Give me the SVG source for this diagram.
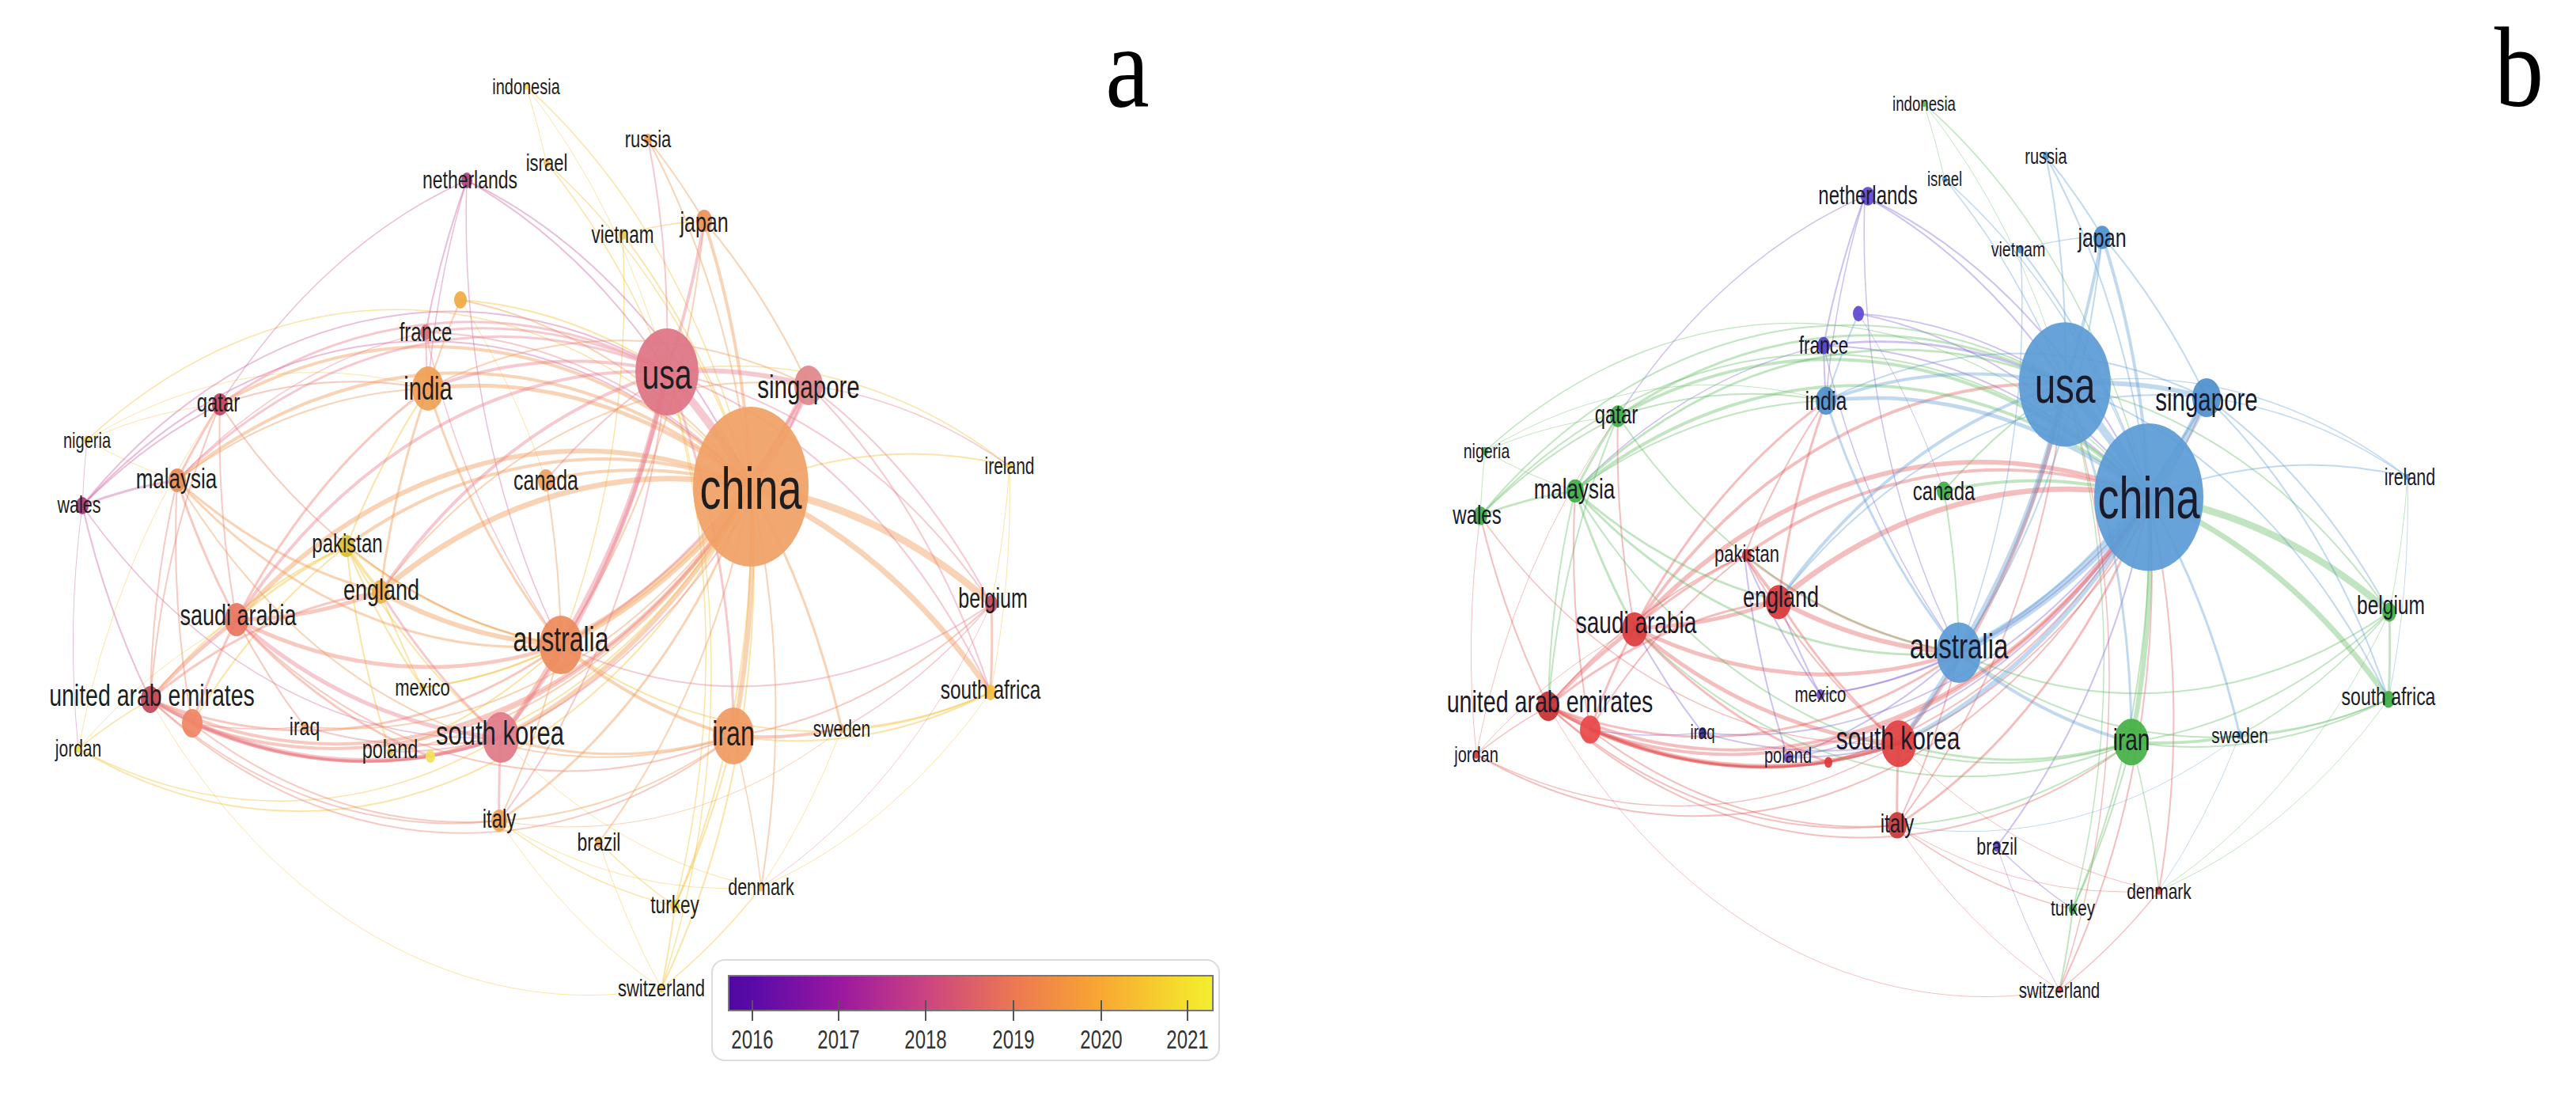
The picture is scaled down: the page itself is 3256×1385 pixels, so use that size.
<svg xmlns="http://www.w3.org/2000/svg" width="3256" height="1385" viewBox="0 0 3256 1385">
<style>
.l{font-family:"Liberation Sans",Arial,sans-serif;fill:#1e1e1e;text-anchor:middle;dominant-baseline:central}
.lb{font-family:"Liberation Sans",Arial,sans-serif;fill:#1a1a2a;text-anchor:middle;dominant-baseline:central}
.pl{font-family:"Liberation Serif","Times New Roman",serif;fill:#000;text-anchor:middle}
.edges{fill:none}
.ap{stroke:#ea7d8c;stroke-opacity:.42}
.ao{stroke:#f29d5e;stroke-opacity:.45}
.ar{stroke:#ee7f6a;stroke-opacity:.42}
.ay{stroke:#f5c94f;stroke-opacity:.5}
.am{stroke:#c8559a;stroke-opacity:.38}
.bb{stroke:#5b9bd5;stroke-opacity:.38}
.bg{stroke:#5cb85c;stroke-opacity:.38}
.br{stroke:#e24a4a;stroke-opacity:.36}
.bp{stroke:#7b5bd6;stroke-opacity:.38}
.n{fill-opacity:.93}
.yr{font-family:"Liberation Sans",Arial,sans-serif;fill:#333;text-anchor:middle;dominant-baseline:central}
</style>
<defs>
<linearGradient id="plasma" x1="0" x2="1" y1="0" y2="0">
<stop offset="0" stop-color="#50089f"/>
<stop offset=".05" stop-color="#5a0aa8"/>
<stop offset=".23" stop-color="#9a18a0"/>
<stop offset=".41" stop-color="#cc4480"/>
<stop offset=".59" stop-color="#ec7852"/>
<stop offset=".77" stop-color="#f8a832"/>
<stop offset=".95" stop-color="#f4e22c"/>
<stop offset="1" stop-color="#f2ee30"/>
</linearGradient>
<path id="e1" d="M843 470A700 966 0 0 1 949 615" stroke-width="10"/>
<path id="e2" d="M1022 487A700 966 0 0 1 949 615" stroke-width="10"/>
<path id="e3" d="M843 470A700 966 0 0 1 1022 487" stroke-width="6"/>
<path id="e4" d="M949 615A700 966 0 0 1 709 815" stroke-width="10"/>
<path id="e5" d="M843 470A700 966 0 0 1 709 815" stroke-width="7"/>
<path id="e6" d="M949 615A700 966 0 0 1 927 930" stroke-width="6"/>
<path id="e7" d="M949 615A700 966 0 0 1 633 932" stroke-width="6"/>
<path id="e8" d="M481 748A700 966 0 0 1 949 615" stroke-width="7"/>
<path id="e9" d="M299 783A700 966 0 0 1 949 615" stroke-width="6"/>
<path id="e10" d="M949 615A700 966 0 0 1 1253 763" stroke-width="9"/>
<path id="e11" d="M949 615A700 966 0 0 1 1252 875" stroke-width="7"/>
<path id="e12" d="M541 491A700 966 0 0 1 949 615" stroke-width="5"/>
<path id="e13" d="M541 491A700 966 0 0 1 843 470" stroke-width="4"/>
<path id="e14" d="M690 607A700 966 0 0 1 949 615" stroke-width="4"/>
<path id="e15" d="M709 815A700 966 0 0 1 633 932" stroke-width="6"/>
<path id="e16" d="M481 748A700 966 0 0 1 299 783" stroke-width="5"/>
<path id="e17" d="M190 884A700 966 0 0 1 299 783" stroke-width="5"/>
<path id="e18" d="M633 932A700 966 0 0 1 190 884" stroke-width="5"/>
<path id="e19" d="M633 932A700 966 0 0 1 299 783" stroke-width="5"/>
<path id="e20" d="M890 279A700 966 0 0 1 949 615" stroke-width="4"/>
<path id="e21" d="M890 279A700 966 0 0 1 843 470" stroke-width="4"/>
<path id="e22" d="M438 690A700 966 0 0 1 949 615" stroke-width="4"/>
<path id="e23" d="M709 815A700 966 0 0 1 481 748" stroke-width="6"/>
<path id="e24" d="M224 607A700 966 0 0 1 949 615" stroke-width="4"/>
<path id="e25" d="M278 511A700 966 0 0 1 949 615" stroke-width="4"/>
<path id="e26" d="M843 470A700 966 0 0 1 633 932" stroke-width="5"/>
<path id="e27" d="M949 615A700 966 0 0 1 190 884" stroke-width="4"/>
<path id="e28" d="M709 815A700 966 0 0 1 299 783" stroke-width="5"/>
<path id="e29" d="M927 930A700 966 0 0 1 709 815" stroke-width="4"/>
<path id="e30" d="M1064 921A700 966 0 0 1 927 930" stroke-width="4"/>
<path id="e31" d="M631 1037A700 966 0 0 1 633 932" stroke-width="3"/>
<path id="e32" d="M633 932A700 966 0 0 1 544 956" stroke-width="3"/>
<path id="e33" d="M949 615A700 966 0 0 1 243 914" stroke-width="4"/>
<path id="e34" d="M481 748A700 966 0 0 1 843 470" stroke-width="4"/>
<path id="e35" d="M299 783A700 966 0 0 1 843 470" stroke-width="4"/>
<path id="e36" d="M843 470A700 966 0 0 1 927 930" stroke-width="3"/>
<path id="e37" d="M224 607A700 966 0 0 1 843 470" stroke-width="3"/>
<path id="e38" d="M278 511A700 966 0 0 1 843 470" stroke-width="3"/>
<path id="e39" d="M590 228A700 966 0 0 1 843 470" stroke-width="2"/>
<path id="e40" d="M538 420A700 966 0 0 1 843 470" stroke-width="3"/>
<path id="e41" d="M582 379A700 966 0 0 1 843 470" stroke-width="2"/>
<path id="e42" d="M819 176A700 966 0 0 1 949 615" stroke-width="2"/>
<path id="e43" d="M819 176A700 966 0 0 1 843 470" stroke-width="2"/>
<path id="e44" d="M787 296A700 966 0 0 1 949 615" stroke-width="2"/>
<path id="e45" d="M691 206A700 966 0 0 1 949 615" stroke-width="1.5"/>
<path id="e46" d="M665 109A700 966 0 0 1 949 615" stroke-width="1.5"/>
<path id="e47" d="M949 615A700 966 0 0 1 1276 589" stroke-width="2"/>
<path id="e48" d="M949 615A700 966 0 0 1 1064 921" stroke-width="3"/>
<path id="e49" d="M949 615A700 966 0 0 1 962 1121" stroke-width="2"/>
<path id="e50" d="M949 615A700 966 0 0 1 853 1145" stroke-width="2"/>
<path id="e51" d="M949 615A700 966 0 0 1 836 1249" stroke-width="2"/>
<path id="e52" d="M949 615A700 966 0 0 1 757 1064" stroke-width="2"/>
<path id="e53" d="M949 615A700 966 0 0 1 631 1037" stroke-width="3"/>
<path id="e54" d="M949 615A700 966 0 0 1 534 869" stroke-width="2"/>
<path id="e55" d="M949 615A700 966 0 0 1 385 918" stroke-width="2"/>
<path id="e56" d="M949 615A700 966 0 0 1 99 946" stroke-width="2"/>
<path id="e57" d="M104 639A700 966 0 0 1 949 615" stroke-width="2"/>
<path id="e58" d="M110 556A700 966 0 0 1 949 615" stroke-width="1.5"/>
<path id="e59" d="M949 615A700 966 0 0 1 493 950" stroke-width="2"/>
<path id="e60" d="M949 615A700 966 0 0 1 544 956" stroke-width="2"/>
<path id="e61" d="M538 420A700 966 0 0 1 949 615" stroke-width="2"/>
<path id="e62" d="M582 379A700 966 0 0 1 949 615" stroke-width="2"/>
<path id="e63" d="M1022 487A700 966 0 0 1 709 815" stroke-width="3"/>
<path id="e64" d="M890 279A700 966 0 0 1 1022 487" stroke-width="2"/>
<path id="e65" d="M541 491A700 966 0 0 1 1022 487" stroke-width="2"/>
<path id="e66" d="M1022 487A700 966 0 0 1 633 932" stroke-width="2"/>
<path id="e67" d="M481 748A700 966 0 0 1 1022 487" stroke-width="2"/>
<path id="e68" d="M709 815A700 966 0 0 1 438 690" stroke-width="3"/>
<path id="e69" d="M709 815A700 966 0 0 1 541 491" stroke-width="3"/>
<path id="e70" d="M709 815A700 966 0 0 1 190 884" stroke-width="3"/>
<path id="e71" d="M709 815A700 966 0 0 1 224 607" stroke-width="3"/>
<path id="e72" d="M709 815A700 966 0 0 1 278 511" stroke-width="2"/>
<path id="e73" d="M1252 875A700 966 0 0 1 709 815" stroke-width="2"/>
<path id="e74" d="M1253 763A700 966 0 0 1 709 815" stroke-width="2"/>
<path id="e75" d="M709 815A700 966 0 0 1 631 1037" stroke-width="2"/>
<path id="e76" d="M481 748A700 966 0 0 1 438 690" stroke-width="4"/>
<path id="e77" d="M481 748A700 966 0 0 1 541 491" stroke-width="3"/>
<path id="e78" d="M481 748A700 966 0 0 1 224 607" stroke-width="3"/>
<path id="e79" d="M633 932A700 966 0 0 1 481 748" stroke-width="3"/>
<path id="e80" d="M190 884A700 966 0 0 1 481 748" stroke-width="3"/>
<path id="e81" d="M299 783A700 966 0 0 1 438 690" stroke-width="3"/>
<path id="e82" d="M299 783A700 966 0 0 1 224 607" stroke-width="3"/>
<path id="e83" d="M299 783A700 966 0 0 1 278 511" stroke-width="2"/>
<path id="e84" d="M299 783A700 966 0 0 1 541 491" stroke-width="3"/>
<path id="e85" d="M243 914A700 966 0 0 1 299 783" stroke-width="3"/>
<path id="e86" d="M243 914A700 966 0 0 1 190 884" stroke-width="2"/>
<path id="e87" d="M99 946A700 966 0 0 1 190 884" stroke-width="1.5"/>
<path id="e88" d="M190 884A700 966 0 0 1 224 607" stroke-width="2"/>
<path id="e89" d="M190 884A700 966 0 0 1 278 511" stroke-width="2"/>
<path id="e90" d="M104 639A700 966 0 0 1 224 607" stroke-width="3"/>
<path id="e91" d="M104 639A700 966 0 0 1 278 511" stroke-width="2"/>
<path id="e92" d="M190 884A700 966 0 0 1 104 639" stroke-width="2"/>
<path id="e93" d="M104 639A700 966 0 0 1 843 470" stroke-width="2"/>
<path id="e94" d="M224 607A700 966 0 0 1 110 556" stroke-width="1"/>
<path id="e95" d="M224 607A700 966 0 0 1 278 511" stroke-width="3"/>
<path id="e96" d="M278 511A700 966 0 0 1 541 491" stroke-width="2"/>
<path id="e97" d="M224 607A700 966 0 0 1 541 491" stroke-width="2"/>
<path id="e98" d="M927 930A700 966 0 0 1 633 932" stroke-width="3"/>
<path id="e99" d="M633 932A700 966 0 0 1 493 950" stroke-width="2"/>
<path id="e100" d="M633 932A700 966 0 0 1 243 914" stroke-width="4"/>
<path id="e101" d="M633 932A700 966 0 0 1 385 918" stroke-width="2"/>
<path id="e102" d="M633 932A700 966 0 0 1 438 690" stroke-width="2"/>
<path id="e103" d="M927 930A700 966 0 0 1 299 783" stroke-width="2"/>
<path id="e104" d="M927 930A700 966 0 0 1 190 884" stroke-width="2"/>
<path id="e105" d="M1252 875A700 966 0 0 1 927 930" stroke-width="2"/>
<path id="e106" d="M1253 763A700 966 0 0 1 927 930" stroke-width="2"/>
<path id="e107" d="M927 930A700 966 0 0 1 853 1145" stroke-width="2"/>
<path id="e108" d="M927 930A700 966 0 0 1 962 1121" stroke-width="1.5"/>
<path id="e109" d="M927 930A700 966 0 0 1 631 1037" stroke-width="2"/>
<path id="e110" d="M927 930A700 966 0 0 1 224 607" stroke-width="2"/>
<path id="e111" d="M853 1145A700 966 0 0 1 631 1037" stroke-width="1.5"/>
<path id="e112" d="M853 1145A700 966 0 0 1 836 1249" stroke-width="2"/>
<path id="e113" d="M962 1121A700 966 0 0 1 836 1249" stroke-width="1.5"/>
<path id="e114" d="M853 1145A700 966 0 0 1 757 1064" stroke-width="1.5"/>
<path id="e115" d="M819 176A700 966 0 0 1 890 279" stroke-width="2"/>
<path id="e116" d="M787 296A700 966 0 0 1 890 279" stroke-width="1.5"/>
<path id="e117" d="M538 420A700 966 0 0 1 590 228" stroke-width="2"/>
<path id="e118" d="M665 109A700 966 0 0 1 691 206" stroke-width="1"/>
<path id="e119" d="M541 491A700 966 0 0 1 538 420" stroke-width="2"/>
<path id="e120" d="M541 491A700 966 0 0 1 582 379" stroke-width="2"/>
<path id="e121" d="M1253 763A700 966 0 0 1 1252 875" stroke-width="3"/>
<path id="e122" d="M1253 763A700 966 0 0 1 1064 921" stroke-width="1.5"/>
<path id="e123" d="M1252 875A700 966 0 0 1 1064 921" stroke-width="1.5"/>
<path id="e124" d="M1276 589A700 966 0 0 1 1252 875" stroke-width="1"/>
<path id="e125" d="M534 869A700 966 0 0 1 438 690" stroke-width="2"/>
<path id="e126" d="M493 950A700 966 0 0 1 438 690" stroke-width="2"/>
<path id="e127" d="M534 869A700 966 0 0 1 481 748" stroke-width="2"/>
<path id="e128" d="M385 918A700 966 0 0 1 299 783" stroke-width="2"/>
<path id="e129" d="M544 956A700 966 0 0 1 299 783" stroke-width="3"/>
<path id="e130" d="M690 607A700 966 0 0 1 709 815" stroke-width="2"/>
<path id="e131" d="M690 607A700 966 0 0 1 843 470" stroke-width="2"/>
<path id="e132" d="M99 946A700 966 0 0 1 299 783" stroke-width="1"/>
<path id="e133" d="M104 639A700 966 0 0 1 110 556" stroke-width="1"/>
<path id="e134" d="M843 470A700 966 0 0 1 1253 763" stroke-width="2"/>
<path id="e135" d="M843 470A700 966 0 0 1 1252 875" stroke-width="2"/>
<path id="e136" d="M843 470A700 966 0 0 1 1276 589" stroke-width="1.5"/>
<path id="e137" d="M1022 487A700 966 0 0 1 1276 589" stroke-width="1.5"/>
<path id="e138" d="M1022 487A700 966 0 0 1 1252 875" stroke-width="2"/>
<path id="e139" d="M438 690A700 966 0 0 1 541 491" stroke-width="2"/>
<path id="e140" d="M190 884A700 966 0 0 1 438 690" stroke-width="2"/>
<path id="e141" d="M836 1249A700 966 0 0 1 631 1037" stroke-width="1"/>
<path id="e142" d="M836 1249A700 966 0 0 1 757 1064" stroke-width="1"/>
<path id="e143" d="M962 1121A700 966 0 0 1 631 1037" stroke-width="1"/>
<path id="e144" d="M1064 921A700 966 0 0 1 631 1037" stroke-width="1"/>
<path id="e145" d="M843 470A700 966 0 0 1 836 1249" stroke-width="1.5"/>
<path id="e146" d="M843 470A700 966 0 0 1 853 1145" stroke-width="1.5"/>
<path id="e147" d="M843 470A700 966 0 0 1 631 1037" stroke-width="2"/>
<path id="e148" d="M709 815A700 966 0 0 1 493 950" stroke-width="2"/>
<path id="e149" d="M709 815A700 966 0 0 1 534 869" stroke-width="2"/>
<path id="e150" d="M99 946A700 966 0 0 1 104 639" stroke-width="1"/>
<path id="e151" d="M99 946A700 966 0 0 1 278 511" stroke-width="1"/>
<path id="e152" d="M110 556A700 966 0 0 1 278 511" stroke-width="1"/>
<path id="e153" d="M541 491A700 966 0 0 1 590 228" stroke-width="1.5"/>
<path id="e154" d="M590 228A700 966 0 0 1 949 615" stroke-width="2"/>
<path id="e155" d="M709 815A700 966 0 0 1 590 228" stroke-width="1.5"/>
<path id="e156" d="M582 379A700 966 0 0 1 690 607" stroke-width="1"/>
<path id="e157" d="M709 815A700 966 0 0 1 538 420" stroke-width="1.5"/>
<path id="e158" d="M890 279A700 966 0 0 1 709 815" stroke-width="2"/>
<path id="e159" d="M787 296A700 966 0 0 1 709 815" stroke-width="1.5"/>
<path id="e160" d="M691 206A700 966 0 0 1 843 470" stroke-width="1.5"/>
<path id="e161" d="M665 109A700 966 0 0 1 843 470" stroke-width="1"/>
<path id="e162" d="M633 932A700 966 0 0 1 104 639" stroke-width="1.5"/>
<path id="e163" d="M633 932A700 966 0 0 1 99 946" stroke-width="1.5"/>
<path id="e164" d="M836 1249A700 966 0 0 1 190 884" stroke-width="1"/>
<path id="e165" d="M962 1121A700 966 0 0 1 633 932" stroke-width="1"/>
<path id="e166" d="M110 556A700 966 0 0 1 541 491" stroke-width="1"/>
<path id="e167" d="M278 511A700 966 0 0 1 590 228" stroke-width="1.5"/>
<path id="e168" d="M224 607A700 966 0 0 1 538 420" stroke-width="1.5"/>
<path id="e169" d="M1276 589A700 966 0 0 1 1253 763" stroke-width="1"/>
<path id="e170" d="M1252 875A700 966 0 0 1 962 1121" stroke-width="1"/>
<path id="e171" d="M1253 763A700 966 0 0 1 962 1121" stroke-width="1"/>
<path id="e172" d="M1022 487A700 966 0 0 1 1253 763" stroke-width="2"/>
<path id="e173" d="M1064 921A700 966 0 0 1 962 1121" stroke-width="1"/>
<path id="e174" d="M243 914A700 966 0 0 1 224 607" stroke-width="2"/>
<path id="e175" d="M243 914A700 966 0 0 1 438 690" stroke-width="2"/>
<path id="e176" d="M385 918A700 966 0 0 1 243 914" stroke-width="1.5"/>
<path id="e177" d="M544 956A700 966 0 0 1 243 914" stroke-width="3"/>
<path id="e178" d="M631 1037A700 966 0 0 1 243 914" stroke-width="2"/>
<path id="e179" d="M544 956A700 966 0 0 1 190 884" stroke-width="3"/>
<path id="e180" d="M631 1037A700 966 0 0 1 190 884" stroke-width="2"/>
</defs>
<rect width="3256" height="1385" fill="#fff"/>

<!-- ============ PANEL A ============ -->
<g id="panel-a">
<g id="connectors-a" class="edges">
<g class="ay"><use href="#e41"/><use href="#e44"/><use href="#e45"/><use href="#e46"/><use href="#e47"/><use href="#e50"/><use href="#e51"/><use href="#e54"/><use href="#e56"/><use href="#e58"/><use href="#e60"/><use href="#e68"/><use href="#e73"/><use href="#e76"/><use href="#e81"/><use href="#e87"/><use href="#e94"/><use href="#e102"/><use href="#e105"/><use href="#e107"/><use href="#e111"/><use href="#e112"/><use href="#e113"/><use href="#e114"/><use href="#e116"/><use href="#e118"/><use href="#e123"/><use href="#e124"/><use href="#e125"/><use href="#e126"/><use href="#e127"/><use href="#e132"/><use href="#e136"/><use href="#e139"/><use href="#e140"/><use href="#e141"/><use href="#e142"/><use href="#e143"/><use href="#e145"/><use href="#e146"/><use href="#e148"/><use href="#e149"/><use href="#e151"/><use href="#e152"/><use href="#e156"/><use href="#e159"/><use href="#e160"/><use href="#e161"/><use href="#e163"/><use href="#e164"/><use href="#e165"/><use href="#e166"/><use href="#e169"/><use href="#e170"/><use href="#e173"/><use href="#e175"/></g>
<g class="am"><use href="#e39"/><use href="#e57"/><use href="#e90"/><use href="#e91"/><use href="#e92"/><use href="#e93"/><use href="#e117"/><use href="#e133"/><use href="#e150"/><use href="#e153"/><use href="#e154"/><use href="#e155"/><use href="#e162"/><use href="#e167"/></g>
<g class="ar"><use href="#e15"/><use href="#e16"/><use href="#e17"/><use href="#e27"/><use href="#e28"/><use href="#e30"/><use href="#e33"/><use href="#e70"/><use href="#e72"/><use href="#e80"/><use href="#e82"/><use href="#e83"/><use href="#e84"/><use href="#e85"/><use href="#e86"/><use href="#e88"/><use href="#e89"/><use href="#e95"/><use href="#e96"/><use href="#e103"/><use href="#e104"/><use href="#e106"/><use href="#e121"/><use href="#e128"/><use href="#e129"/><use href="#e174"/><use href="#e176"/><use href="#e177"/><use href="#e178"/><use href="#e179"/><use href="#e180"/></g>
<g class="ao"><use href="#e4"/><use href="#e6"/><use href="#e7"/><use href="#e8"/><use href="#e9"/><use href="#e10"/><use href="#e11"/><use href="#e12"/><use href="#e14"/><use href="#e20"/><use href="#e22"/><use href="#e23"/><use href="#e24"/><use href="#e25"/><use href="#e29"/><use href="#e42"/><use href="#e48"/><use href="#e49"/><use href="#e52"/><use href="#e53"/><use href="#e55"/><use href="#e59"/><use href="#e62"/><use href="#e64"/><use href="#e65"/><use href="#e67"/><use href="#e69"/><use href="#e71"/><use href="#e75"/><use href="#e77"/><use href="#e78"/><use href="#e97"/><use href="#e98"/><use href="#e108"/><use href="#e109"/><use href="#e110"/><use href="#e115"/><use href="#e120"/><use href="#e130"/><use href="#e144"/><use href="#e158"/></g>
<g class="ap"><use href="#e1"/><use href="#e2"/><use href="#e3"/><use href="#e5"/><use href="#e13"/><use href="#e18"/><use href="#e19"/><use href="#e21"/><use href="#e26"/><use href="#e31"/><use href="#e32"/><use href="#e34"/><use href="#e35"/><use href="#e36"/><use href="#e37"/><use href="#e38"/><use href="#e40"/><use href="#e43"/><use href="#e61"/><use href="#e63"/><use href="#e66"/><use href="#e74"/><use href="#e79"/><use href="#e99"/><use href="#e100"/><use href="#e101"/><use href="#e119"/><use href="#e122"/><use href="#e131"/><use href="#e134"/><use href="#e135"/><use href="#e137"/><use href="#e138"/><use href="#e147"/><use href="#e157"/><use href="#e168"/><use href="#e171"/><use href="#e172"/></g>
</g>
<g id="nodes-a">
<g id="a-indonesia"><ellipse class="n" cx="665" cy="109" rx="3" ry="4" fill="#f2e050"/><text class="l" font-size="20" transform="matrix(1 0 0 1.38 665 109)">indonesia</text></g>
<g id="a-russia"><ellipse class="n" cx="819" cy="176" rx="5" ry="7" fill="#f0a050"/><text class="l" font-size="22" transform="matrix(1 0 0 1.38 819 176)">russia</text></g>
<g id="a-israel"><ellipse class="n" cx="691" cy="206" rx="4" ry="5.5" fill="#f5c060"/><text class="l" font-size="22" transform="matrix(1 0 0 1.38 691 206)">israel</text></g>
<g id="a-netherlands"><ellipse class="n" cx="590" cy="228" rx="7" ry="10" fill="#a8457e"/><text class="l" font-size="23" transform="matrix(1 0 0 1.38 594 227)">netherlands</text></g>
<g id="a-vietnam"><ellipse class="n" cx="787" cy="296" rx="5" ry="7" fill="#f5c850"/><text class="l" font-size="22.5" transform="matrix(1 0 0 1.38 787 296)">vietnam</text></g>
<g id="a-japan"><ellipse class="n" cx="890" cy="279" rx="10" ry="14" fill="#ee9055"/><text class="l" font-size="25" transform="matrix(1 0 0 1.38 890 281)">japan</text></g>
<g id="a-node1"><ellipse class="n" cx="582" cy="379" rx="8" ry="11" fill="#f0aa45"/></g>
<g id="a-france"><ellipse class="n" cx="538" cy="420" rx="7" ry="10" fill="#de7070"/><text class="l" font-size="24" transform="matrix(1 0 0 1.38 538 420)">france</text></g>
<g id="a-qatar"><ellipse class="n" cx="278" cy="511" rx="10" ry="14" fill="#c04560"/><text class="l" font-size="24" transform="matrix(1 0 0 1.38 276 509)">qatar</text></g>
<g id="a-nigeria"><ellipse class="n" cx="110" cy="556" rx="4" ry="5.5" fill="#f0d848"/><text class="l" font-size="20" transform="matrix(1 0 0 1.38 110 556)">nigeria</text></g>
<g id="a-malaysia"><ellipse class="n" cx="224" cy="607" rx="11" ry="15" fill="#eb8c55"/><text class="l" font-size="26" transform="matrix(1 0 0 1.38 223 605)">malaysia</text></g>
<g id="a-wales"><ellipse class="n" cx="104" cy="639" rx="8" ry="11" fill="#a33a78"/><text class="l" font-size="21.5" transform="matrix(1 0 0 1.38 100 638)">wales</text></g>
<g id="a-canada"><ellipse class="n" cx="690" cy="607" rx="10" ry="14" fill="#eea060"/><text class="l" font-size="25" transform="matrix(1 0 0 1.38 690 607)">canada</text></g>
<g id="a-ireland"><ellipse class="n" cx="1276" cy="589" rx="4" ry="5.5" fill="#f2d860"/><text class="l" font-size="21" transform="matrix(1 0 0 1.38 1276 589)">ireland</text></g>
<g id="a-pakistan"><ellipse class="n" cx="438" cy="690" rx="10" ry="14" fill="#dcc035"/><text class="l" font-size="24" transform="matrix(1 0 0 1.38 439 687)">pakistan</text></g>
<g id="a-england"><ellipse class="n" cx="481" cy="748" rx="11" ry="15" fill="#eeb045"/><text class="l" font-size="27" transform="matrix(1 0 0 1.38 482 745)">england</text></g>
<g id="a-belgium"><ellipse class="n" cx="1253" cy="763" rx="8" ry="11" fill="#c24a60"/><text class="l" font-size="25" transform="matrix(1 0 0 1.38 1255 756)">belgium</text></g>
<g id="a-saudi-arabia"><ellipse class="n" cx="299" cy="783" rx="15" ry="21" fill="#e87560"/><text class="l" font-size="27" transform="matrix(1 0 0 1.38 301 777)">saudi arabia</text></g>
<g id="a-node2"><ellipse class="n" cx="243" cy="914" rx="13" ry="18" fill="#ef8565"/></g>
<g id="a-uae"><ellipse class="n" cx="190" cy="884" rx="12" ry="17" fill="#c0485a"/><text class="l" font-size="28.5" transform="matrix(1 0 0 1.38 192 878)">united arab emirates</text></g>
<g id="a-mexico"><ellipse class="n" cx="534" cy="869" rx="4" ry="5.5" fill="#f2c848"/><text class="l" font-size="22" transform="matrix(1 0 0 1.38 534 869)">mexico</text></g>
<g id="a-south-africa"><ellipse class="n" cx="1252" cy="875" rx="7" ry="10" fill="#f5c045"/><text class="l" font-size="24.5" transform="matrix(1 0 0 1.38 1252 871)">south africa</text></g>
<g id="a-iraq"><ellipse class="n" cx="385" cy="918" rx="4" ry="5.5" fill="#f0a860"/><text class="l" font-size="23" transform="matrix(1 0 0 1.38 385 918)">iraq</text></g>
<g id="a-sweden"><ellipse class="n" cx="1064" cy="921" rx="4" ry="5.5" fill="#f0a868"/><text class="l" font-size="21" transform="matrix(1 0 0 1.38 1064 921)">sweden</text></g>
<g id="a-jordan"><ellipse class="n" cx="99" cy="946" rx="4" ry="5.5" fill="#f0e060"/><text class="l" font-size="21" transform="matrix(1 0 0 1.38 99 946)">jordan</text></g>
<g id="a-poland"><ellipse class="n" cx="493" cy="950" rx="4" ry="5.5" fill="#f0c050"/><text class="l" font-size="23.5" transform="matrix(1 0 0 1.38 493 947)">poland</text></g>
<g id="a-node3"><ellipse class="n" cx="544" cy="956" rx="6" ry="8" fill="#f2e25a"/></g>
<g id="a-italy"><ellipse class="n" cx="631" cy="1037" rx="10" ry="14" fill="#f0a455"/><text class="l" font-size="24" transform="matrix(1 0 0 1.38 631 1035)">italy</text></g>
<g id="a-brazil"><ellipse class="n" cx="757" cy="1064" rx="5" ry="7" fill="#f0b050"/><text class="l" font-size="23" transform="matrix(1 0 0 1.38 757 1064)">brazil</text></g>
<g id="a-denmark"><ellipse class="n" cx="962" cy="1121" rx="4" ry="5.5" fill="#f2c060"/><text class="l" font-size="21.5" transform="matrix(1 0 0 1.38 962 1121)">denmark</text></g>
<g id="a-turkey"><ellipse class="n" cx="853" cy="1145" rx="6" ry="8" fill="#f5d545"/><text class="l" font-size="22.5" transform="matrix(1 0 0 1.38 853 1143)">turkey</text></g>
<g id="a-switzerland"><ellipse class="n" cx="836" cy="1249" rx="4" ry="5.5" fill="#f5d050"/><text class="l" font-size="22" transform="matrix(1 0 0 1.38 836 1249)">switzerland</text></g>
<g id="a-india"><ellipse class="n" cx="541" cy="491" rx="20" ry="28" fill="#eea055"/><text class="l" font-size="29" transform="matrix(1 0 0 1.38 541 491)">india</text></g>
<g id="a-singapore"><ellipse class="n" cx="1022" cy="487" rx="18" ry="25" fill="#e0868c"/><text class="l" font-size="29.5" transform="matrix(1 0 0 1.38 1022 489)">singapore</text></g>
<g id="a-south-korea"><ellipse class="n" cx="633" cy="932" rx="23" ry="32" fill="#e07a88"/><text class="l" font-size="31" transform="matrix(1 0 0 1.38 632 926)">south korea</text></g>
<g id="a-iran"><ellipse class="n" cx="927" cy="930" rx="26" ry="36" fill="#f09a60"/><text class="l" font-size="32" transform="matrix(1 0 0 1.38 927 927)">iran</text></g>
<g id="a-australia"><ellipse class="n" cx="709" cy="815" rx="27" ry="37" fill="#ed8b5a"/><text class="l" font-size="32" transform="matrix(1 0 0 1.38 709 808)">australia</text></g>
<g id="a-usa"><ellipse class="n" cx="843" cy="470" rx="40" ry="55" fill="#df7484"/><text class="l" font-size="39" transform="matrix(1 0 0 1.38 843 472)">usa</text></g>
<g id="a-china"><ellipse class="n" cx="949" cy="615" rx="73" ry="101" fill="#f0a065"/><text class="l" font-size="54" transform="matrix(1 0 0 1.38 949 617)">china</text></g>
</g>
<g id="legend-a">
<rect x="900" y="1213" width="641" height="127" rx="16" fill="#fff" stroke="#dcdcdc" stroke-width="2"/>
<rect x="921" y="1233" width="612" height="44" fill="url(#plasma)" stroke="#777" stroke-width="2"/>
<g stroke="#555" stroke-width="2">
<line x1="951" y1="1264" x2="951" y2="1290"/><line x1="1060" y1="1264" x2="1060" y2="1290"/><line x1="1170" y1="1264" x2="1170" y2="1290"/><line x1="1281" y1="1264" x2="1281" y2="1290"/><line x1="1392" y1="1264" x2="1392" y2="1290"/><line x1="1501" y1="1264" x2="1501" y2="1290"/>
</g>
<text class="yr" font-size="24" transform="matrix(1 0 0 1.38 951 1314)">2016</text>
<text class="yr" font-size="24" transform="matrix(1 0 0 1.38 1060 1314)">2017</text>
<text class="yr" font-size="24" transform="matrix(1 0 0 1.38 1170 1314)">2018</text>
<text class="yr" font-size="24" transform="matrix(1 0 0 1.38 1281 1314)">2019</text>
<text class="yr" font-size="24" transform="matrix(1 0 0 1.38 1392 1314)">2020</text>
<text class="yr" font-size="24" transform="matrix(1 0 0 1.38 1501 1314)">2021</text>
</g>
<text class="pl" font-size="125" transform="matrix(1 0 0 1.18 1425 135)">a</text>
</g>

<!-- ============ PANEL B ============ -->
<g id="panel-b">
<g transform="translate(1767 24) scale(1 .9825)">
<g id="connectors-b" class="edges">
<g class="bp"><use href="#e39"/><use href="#e40"/><use href="#e41"/><use href="#e52"/><use href="#e54"/><use href="#e55"/><use href="#e59"/><use href="#e61"/><use href="#e62"/><use href="#e99"/><use href="#e101"/><use href="#e114"/><use href="#e117"/><use href="#e119"/><use href="#e125"/><use href="#e126"/><use href="#e127"/><use href="#e128"/><use href="#e142"/><use href="#e148"/><use href="#e149"/><use href="#e153"/><use href="#e154"/><use href="#e155"/><use href="#e156"/><use href="#e157"/><use href="#e167"/><use href="#e168"/><use href="#e176"/></g>
<g class="br"><use href="#e8"/><use href="#e9"/><use href="#e16"/><use href="#e17"/><use href="#e18"/><use href="#e19"/><use href="#e22"/><use href="#e23"/><use href="#e26"/><use href="#e27"/><use href="#e28"/><use href="#e31"/><use href="#e32"/><use href="#e33"/><use href="#e35"/><use href="#e49"/><use href="#e51"/><use href="#e53"/><use href="#e56"/><use href="#e60"/><use href="#e66"/><use href="#e68"/><use href="#e70"/><use href="#e75"/><use href="#e76"/><use href="#e77"/><use href="#e79"/><use href="#e80"/><use href="#e81"/><use href="#e83"/><use href="#e84"/><use href="#e85"/><use href="#e86"/><use href="#e87"/><use href="#e92"/><use href="#e100"/><use href="#e102"/><use href="#e104"/><use href="#e111"/><use href="#e113"/><use href="#e129"/><use href="#e132"/><use href="#e139"/><use href="#e140"/><use href="#e141"/><use href="#e143"/><use href="#e145"/><use href="#e147"/><use href="#e150"/><use href="#e151"/><use href="#e162"/><use href="#e163"/><use href="#e164"/><use href="#e165"/><use href="#e174"/><use href="#e175"/><use href="#e177"/><use href="#e178"/><use href="#e179"/><use href="#e180"/></g>
<g class="bg"><use href="#e6"/><use href="#e10"/><use href="#e11"/><use href="#e14"/><use href="#e24"/><use href="#e25"/><use href="#e30"/><use href="#e37"/><use href="#e38"/><use href="#e46"/><use href="#e50"/><use href="#e57"/><use href="#e58"/><use href="#e71"/><use href="#e72"/><use href="#e73"/><use href="#e74"/><use href="#e78"/><use href="#e82"/><use href="#e88"/><use href="#e89"/><use href="#e90"/><use href="#e91"/><use href="#e93"/><use href="#e94"/><use href="#e95"/><use href="#e96"/><use href="#e97"/><use href="#e98"/><use href="#e103"/><use href="#e105"/><use href="#e106"/><use href="#e107"/><use href="#e108"/><use href="#e109"/><use href="#e110"/><use href="#e112"/><use href="#e118"/><use href="#e121"/><use href="#e122"/><use href="#e123"/><use href="#e130"/><use href="#e131"/><use href="#e133"/><use href="#e134"/><use href="#e146"/><use href="#e152"/><use href="#e161"/><use href="#e166"/><use href="#e169"/><use href="#e170"/><use href="#e171"/></g>
<g class="bb"><use href="#e1"/><use href="#e2"/><use href="#e3"/><use href="#e4"/><use href="#e5"/><use href="#e7"/><use href="#e12"/><use href="#e13"/><use href="#e15"/><use href="#e20"/><use href="#e21"/><use href="#e29"/><use href="#e34"/><use href="#e36"/><use href="#e42"/><use href="#e43"/><use href="#e44"/><use href="#e45"/><use href="#e47"/><use href="#e48"/><use href="#e63"/><use href="#e64"/><use href="#e65"/><use href="#e67"/><use href="#e69"/><use href="#e115"/><use href="#e116"/><use href="#e120"/><use href="#e124"/><use href="#e135"/><use href="#e136"/><use href="#e137"/><use href="#e138"/><use href="#e144"/><use href="#e158"/><use href="#e159"/><use href="#e160"/><use href="#e172"/><use href="#e173"/></g>
</g>
<g id="nodes-b">
<g id="b-indonesia"><ellipse class="n" cx="665" cy="109" rx="3" ry="4" fill="#5cb85c"/><text class="lb" font-size="18.7" transform="matrix(1 0 0 1.38 665 109)">indonesia</text></g>
<g id="b-russia"><ellipse class="n" cx="819" cy="176" rx="4" ry="5.5" fill="#5596d0"/><text class="lb" font-size="20" transform="matrix(1 0 0 1.38 819 176)">russia</text></g>
<g id="b-israel"><ellipse class="n" cx="691" cy="206" rx="3" ry="4" fill="#5596d0"/><text class="lb" font-size="18.5" transform="matrix(1 0 0 1.38 691 206)">israel</text></g>
<g id="b-netherlands"><ellipse class="n" cx="594" cy="228" rx="9" ry="12" fill="#6048d0"/><text class="lb" font-size="24" transform="matrix(1 0 0 1.38 594 227)">netherlands</text></g>
<g id="b-vietnam"><ellipse class="n" cx="787" cy="296" rx="4" ry="5.5" fill="#5596d0"/><text class="lb" font-size="19.6" transform="matrix(1 0 0 1.38 784 296)">vietnam</text></g>
<g id="b-japan"><ellipse class="n" cx="890" cy="281" rx="11" ry="15" fill="#4f8fcc"/><text class="lb" font-size="25" transform="matrix(1 0 0 1.38 890 281)">japan</text></g>
<g id="b-node1"><ellipse class="n" cx="582" cy="379" rx="7" ry="10" fill="#6048d0"/></g>
<g id="b-france"><ellipse class="n" cx="538" cy="420" rx="8" ry="11" fill="#5040c8"/><text class="lb" font-size="22.5" transform="matrix(1 0 0 1.38 538 420)">france</text></g>
<g id="b-qatar"><ellipse class="n" cx="278" cy="511" rx="10" ry="14" fill="#3fae45"/><text class="lb" font-size="24" transform="matrix(1 0 0 1.38 276 509)">qatar</text></g>
<g id="b-nigeria"><ellipse class="n" cx="110" cy="556" rx="4" ry="5.5" fill="#4fb050"/><text class="lb" font-size="19.5" transform="matrix(1 0 0 1.38 112 556)">nigeria</text></g>
<g id="b-malaysia"><ellipse class="n" cx="224" cy="607" rx="11" ry="15" fill="#3fae45"/><text class="lb" font-size="26" transform="matrix(1 0 0 1.38 223 605)">malaysia</text></g>
<g id="b-wales"><ellipse class="n" cx="104" cy="639" rx="9" ry="12" fill="#3fae45"/><text class="lb" font-size="24" transform="matrix(1 0 0 1.38 100 638)">wales</text></g>
<g id="b-canada"><ellipse class="n" cx="690" cy="607" rx="9" ry="12" fill="#3fae45"/><text class="lb" font-size="24" transform="matrix(1 0 0 1.38 690 607)">canada</text></g>
<g id="b-ireland"><ellipse class="n" cx="1276" cy="589" rx="3" ry="4" fill="#5596d0"/><text class="lb" font-size="21.5" transform="matrix(1 0 0 1.38 1279 589)">ireland</text></g>
<g id="b-pakistan"><ellipse class="n" cx="441" cy="690" rx="6" ry="8" fill="#d83a3a"/><text class="lb" font-size="22" transform="matrix(1 0 0 1.38 441 688)">pakistan</text></g>
<g id="b-england"><ellipse class="n" cx="481" cy="750" rx="16" ry="22" fill="#d83838"/><text class="lb" font-size="27" transform="matrix(1 0 0 1.38 484 743)">england</text></g>
<g id="b-belgium"><ellipse class="n" cx="1253" cy="763" rx="9" ry="12" fill="#3fae45"/><text class="lb" font-size="24.5" transform="matrix(1 0 0 1.38 1255 754)">belgium</text></g>
<g id="b-saudi-arabia"><ellipse class="n" cx="299" cy="785" rx="16" ry="22" fill="#dc3c3c"/><text class="lb" font-size="28" transform="matrix(1 0 0 1.38 301 776)">saudi arabia</text></g>
<g id="b-node2"><ellipse class="n" cx="243" cy="914" rx="13" ry="18" fill="#e84848"/></g>
<g id="b-uae"><ellipse class="n" cx="190" cy="884" rx="14" ry="19" fill="#c83030"/><text class="lb" font-size="28.6" transform="matrix(1 0 0 1.38 192 878)">united arab emirates</text></g>
<g id="b-mexico"><ellipse class="n" cx="534" cy="869" rx="5" ry="7" fill="#7050d0"/><text class="lb" font-size="20.5" transform="matrix(1 0 0 1.38 534 869)">mexico</text></g>
<g id="b-south-africa"><ellipse class="n" cx="1252" cy="875" rx="8" ry="11" fill="#3fae45"/><text class="lb" font-size="23" transform="matrix(1 0 0 1.38 1252 871)">south africa</text></g>
<g id="b-iraq"><ellipse class="n" cx="385" cy="918" rx="5" ry="7" fill="#3030a0"/><text class="lb" font-size="18.6" transform="matrix(1 0 0 1.38 385 918)">iraq</text></g>
<g id="b-sweden"><ellipse class="n" cx="1064" cy="921" rx="4" ry="5.5" fill="#5596d0"/><text class="lb" font-size="20.7" transform="matrix(1 0 0 1.38 1064 921)">sweden</text></g>
<g id="b-jordan"><ellipse class="n" cx="99" cy="946" rx="4" ry="5.5" fill="#d84040"/><text class="lb" font-size="20" transform="matrix(1 0 0 1.38 99 946)">jordan</text></g>
<g id="b-poland"><ellipse class="n" cx="493" cy="950" rx="5" ry="7" fill="#7050d0"/><text class="lb" font-size="20" transform="matrix(1 0 0 1.38 493 947)">poland</text></g>
<g id="b-node3"><ellipse class="n" cx="544" cy="956" rx="5" ry="7" fill="#e03838"/></g>
<g id="b-italy"><ellipse class="n" cx="631" cy="1037" rx="12" ry="17" fill="#c83838"/><text class="lb" font-size="24" transform="matrix(1 0 0 1.38 631 1035)">italy</text></g>
<g id="b-brazil"><ellipse class="n" cx="757" cy="1064" rx="5" ry="7" fill="#6048d0"/><text class="lb" font-size="21.5" transform="matrix(1 0 0 1.38 757 1064)">brazil</text></g>
<g id="b-denmark"><ellipse class="n" cx="962" cy="1121" rx="4" ry="5.5" fill="#d84040"/><text class="lb" font-size="21" transform="matrix(1 0 0 1.38 962 1121)">denmark</text></g>
<g id="b-turkey"><ellipse class="n" cx="853" cy="1145" rx="5" ry="7" fill="#3fae45"/><text class="lb" font-size="20.6" transform="matrix(1 0 0 1.38 853 1143)">turkey</text></g>
<g id="b-switzerland"><ellipse class="n" cx="836" cy="1249" rx="3" ry="4" fill="#d84040"/><text class="lb" font-size="20.5" transform="matrix(1 0 0 1.38 836 1249)">switzerland</text></g>
<g id="b-india"><ellipse class="n" cx="541" cy="491" rx="13" ry="18" fill="#4f8fcc"/><text class="lb" font-size="25" transform="matrix(1 0 0 1.38 541 491)">india</text></g>
<g id="b-singapore"><ellipse class="n" cx="1022" cy="487" rx="18" ry="25" fill="#4f8fcc"/><text class="lb" font-size="29.5" transform="matrix(1 0 0 1.38 1022 489)">singapore</text></g>
<g id="b-south-korea"><ellipse class="n" cx="633" cy="932" rx="22" ry="30" fill="#e04040"/><text class="lb" font-size="30" transform="matrix(1 0 0 1.38 632 926)">south korea</text></g>
<g id="b-iran"><ellipse class="n" cx="927" cy="930" rx="22" ry="30" fill="#45b045"/><text class="lb" font-size="28" transform="matrix(1 0 0 1.38 927 927)">iran</text></g>
<g id="b-australia"><ellipse class="n" cx="709" cy="815" rx="28" ry="39" fill="#5b9bd5"/><text class="lb" font-size="33" transform="matrix(1 0 0 1.38 709 806)">australia</text></g>
<g id="b-usa"><ellipse class="n" cx="843" cy="470" rx="58" ry="80" fill="#5b9bd5"/><text class="lb" font-size="47.6" transform="matrix(1 0 0 1.38 843 471)">usa</text></g>
<g id="b-china"><ellipse class="n" cx="949" cy="615" rx="69" ry="95" fill="#5b9bd5"/><text class="lb" font-size="54" transform="matrix(1 0 0 1.38 949 617)">china</text></g>
</g>
</g>
<text class="pl" font-size="125" transform="matrix(1 0 0 1.15 3184 134)">b</text>
</g>
</svg>
